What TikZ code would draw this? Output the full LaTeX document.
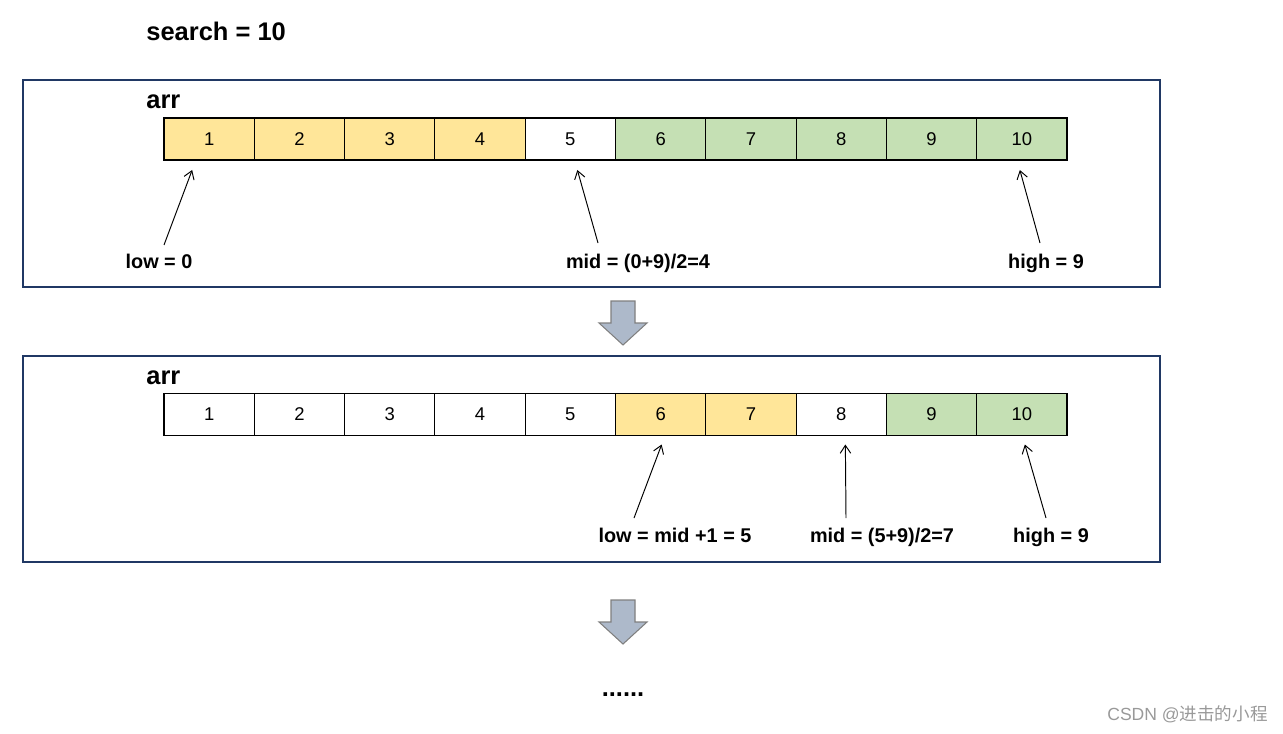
\documentclass[tikz,border=0pt]{standalone}
\usepackage{fontspec}
\setmainfont{Liberation Sans}
\newfontfamily\cjk{Noto Sans CJK SC}
\usetikzlibrary{arrows.meta,positioning}
\definecolor{cellyel}{HTML}{FFE699}
\definecolor{cellgrn}{HTML}{C5E0B4}
\definecolor{framebl}{HTML}{203864}
\definecolor{bigarr}{HTML}{ADB9CA}
\definecolor{bigarrline}{HTML}{7F7F7F}

\begin{document}
\begin{tikzpicture}[x=0.02cm,y=-0.02cm,
	cell/.style={draw,line width=0.6pt,minimum width=1.806cm,minimum height=0.84cm,inner sep=0pt,outer sep=0pt,font=\fontsize{10.5}{12}\selectfont},
	lbl/.style={font=\fontsize{11.3}{13}\bfseries\selectfont,inner sep=0pt,anchor=base},
	ttl/.style={font=\fontsize{14.5}{17}\bfseries\selectfont,inner sep=0pt,anchor=west},
	ptr/.style={-{Straight Barb[length=4.5pt,width=6pt]},line width=0.55pt}]
	\useasboundingbox (0,0) rectangle (1283,733);
	\node[ttl] (search) at (146,31) {search = 10};
	\draw[framebl,line width=0.7pt] (23,80) rectangle (1160,287);%step 1
	\draw[framebl,line width=0.7pt] (23,356) rectangle (1160,562);%step 2
	\node[ttl] (arr1) at (146,102) {arr};
	\node[ttl] (arr2) at (146,378) {arr};
	\foreach \i/\c in {1/cellyel,2/cellyel,3/cellyel,4/cellyel,5/white,6/cellgrn,7/cellgrn,8/cellgrn,9/cellgrn,10/cellgrn}
		\node[cell,fill=\c] (a\i) at ({164+90.3*(\i-0.5)},139) {\i};
	\foreach \i/\c in {1/white,2/white,3/white,4/white,5/white,6/cellyel,7/cellyel,8/white,9/cellgrn,10/cellgrn}
		\node[cell,fill=\c] (b\i) at ({164+90.3*(\i-0.5)},414.5) {\i};
	% pointers, first pass
	\node[lbl] (low1) at (159,268) {low = 0};
	\node[lbl] (mid1) at (638,268) {mid = (0+9)/2=4};
	\node[lbl] (high1) at (1046,268) {high = 9};
	\draw[ptr] ([shift={(5,-23)}]low1.base) -- ([shift={(-17,10)}]a1.south);
	\draw[ptr] ([shift={(-40,-25)}]mid1.base) -- ([shift={(7,10)}]a5.south);
	\draw[ptr] ([shift={(-6,-25)}]high1.base) -- ([shift={(-2,10)}]a10.south);
	% pointers, second pass
	\node[lbl] (low2) at (675,542) {low = mid +1 = 5};
	\node[lbl] (mid2) at (882,542) {mid = (5+9)/2=7};
	\node[lbl] (high2) at (1051,542) {high = 9};
	\draw[ptr] ([shift={(-41,-24)}]low2.base) -- ([shift={(1,9)}]b6.south);
	\draw[ptr] ([shift={(-36,-24)}]mid2.base) -- ([shift={(4.1,9)}]b8.south);
	\draw[ptr] ([shift={(-5,-24)}]high2.base) -- ([shift={(3,9)}]b10.south);
	% big down arrows
	\foreach \y in {301,600}
		\draw[fill=bigarr,draw=bigarrline,line width=0.6pt] (611,\y) -- (635,\y) -- (635,\y+22) -- (647,\y+22) -- (623,\y+44) -- (599,\y+22) -- (611,\y+22) -- cycle;
	\node[ttl,anchor=base] (dots) at (623,696) {......};
	\node[font=\fontsize{10}{12}\selectfont,text=gray!80,anchor=east,inner sep=0pt] (mark) at (1268,714) {CSDN @{\cjk 进击的小程}};
\end{tikzpicture}
\end{document}
